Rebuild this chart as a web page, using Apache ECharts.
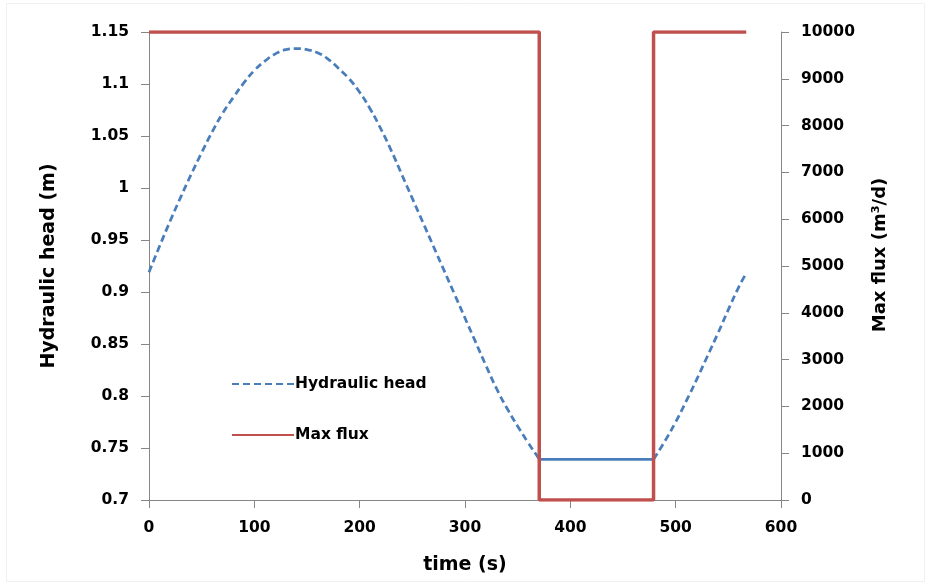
<!DOCTYPE html>
<html>
<head>
<meta charset="utf-8">
<script src="https://cdn.jsdelivr.net/npm/echarts@6/dist/echarts.min.js"></script>
<style>
html,body{margin:0;padding:0;background:#fff;}
#c{width:931px;height:586px;}
</style>
</head>
<body>
<div id="c"></div>
<script>
// time (s) and hydraulic head (m)
const headTime = [0,10,20,30,40,50,60,70,80,90,100,110,120,130,140,150,160,170,180,190,200,210,220,230,240,250,260,270,280,290,300,310,320,330,340,350,360,370,370.5];
const headValue = [0.919,0.944,0.968,0.991,1.013,1.034,1.054,1.072,1.087,1.101,1.113,1.122,1.129,1.133,1.134,1.133,1.130,1.124,1.115,1.105,1.092,1.076,1.057,1.036,1.013,0.990,0.967,0.944,0.921,0.898,0.875,0.852,0.829,0.807,0.788,0.771,0.755,0.740,0.739];
const flatTime = [370.5,479];
const flatValue = [0.739,0.739];
const riseTime = [479,490,500,510,520,530,540,550,560,567];
const riseValue = [0.739,0.757,0.775,0.795,0.816,0.838,0.860,0.883,0.905,0.918];
// max flux (m3/d), step series
const fluxTime = [0,370.5,370.5,479,479,567];
const fluxValue = [10000,10000,0,0,10000,10000];

const zip = (a,b)=>a.map((v,i)=>[v,b[i]]);
const font = '"DejaVu Sans", Verdana, sans-serif';
const axisCommon = {
  axisLine:{show:true,lineStyle:{color:'#868686',width:1}},
  axisTick:{show:true,length:8,lineStyle:{color:'#868686'}},
  splitLine:{show:false},
  axisLabel:{color:'#000',fontFamily:font,fontWeight:'bold',fontSize:15.5,margin:20},
  nameTextStyle:{color:'#000',fontFamily:font,fontWeight:'bold',fontSize:19}
};
const blue = '#4A7EBB', red = '#C0504D';
const chart = echarts.init(document.getElementById('c'));
chart.setOption({
  animation:false,
  backgroundColor:'#fff',
  graphic:[{type:'rect',shape:{x:6.5,y:3.5,width:918,height:578},style:{fill:'none',stroke:'#f0f0f0',lineWidth:1},silent:true}],
  grid:{left:149,right:150,top:32,bottom:86,containLabel:false},
  legend:{
    orient:'vertical',left:226,top:371,itemWidth:62,itemHeight:14,itemGap:35,
    data:['Hydraulic head','Max flux'],
    itemStyle:{opacity:0},
    textStyle:{color:'#000',fontFamily:font,fontWeight:'bold',fontSize:15.5,padding:[0,0,0,-4]}
  },
  xAxis:Object.assign({},axisCommon,{
    type:'value',min:0,max:600,interval:100,name:'time (s)',nameLocation:'middle',nameGap:56
  }),
  yAxis:[
    Object.assign({},axisCommon,{
      type:'value',min:0.7,max:1.15,interval:0.05,position:'left',
      name:'Hydraulic head (m)',nameLocation:'middle',nameGap:90,nameRotate:90,
      axisLabel:Object.assign({},axisCommon.axisLabel,{formatter:v=>String(+v.toFixed(2))})
    }),
    Object.assign({},axisCommon,{
      type:'value',min:0,max:10000,interval:1000,position:'right',
      name:'Max flux (m³/d)',nameLocation:'middle',nameGap:90,nameRotate:90,
      nameTextStyle:Object.assign({},axisCommon.nameTextStyle,{fontSize:18,padding:[0,0,0,22]}),
      axisLabel:Object.assign({},axisCommon.axisLabel,{formatter:v=>String(v)})
    })
  ],
  series:[
    {name:'Hydraulic head',type:'line',yAxisIndex:0,symbol:'none',smooth:true,
     data:zip(headTime,headValue),lineStyle:{color:blue,width:2.75,type:[7,4]},itemStyle:{color:blue}},
    {name:'Hydraulic head',type:'line',yAxisIndex:0,symbol:'none',
     data:zip(flatTime,flatValue),lineStyle:{color:blue,width:2.75,type:'solid'},itemStyle:{color:blue}},
    {name:'Hydraulic head',type:'line',yAxisIndex:0,symbol:'none',smooth:true,
     data:zip(riseTime,riseValue),lineStyle:{color:blue,width:2.75,type:[7,4]},itemStyle:{color:blue}},
    {name:'Max flux',type:'line',yAxisIndex:1,symbol:'none',
     data:zip(fluxTime,fluxValue),lineStyle:{color:red,width:3.5},itemStyle:{color:red}}
  ]
});
</script>
</body>
</html>
